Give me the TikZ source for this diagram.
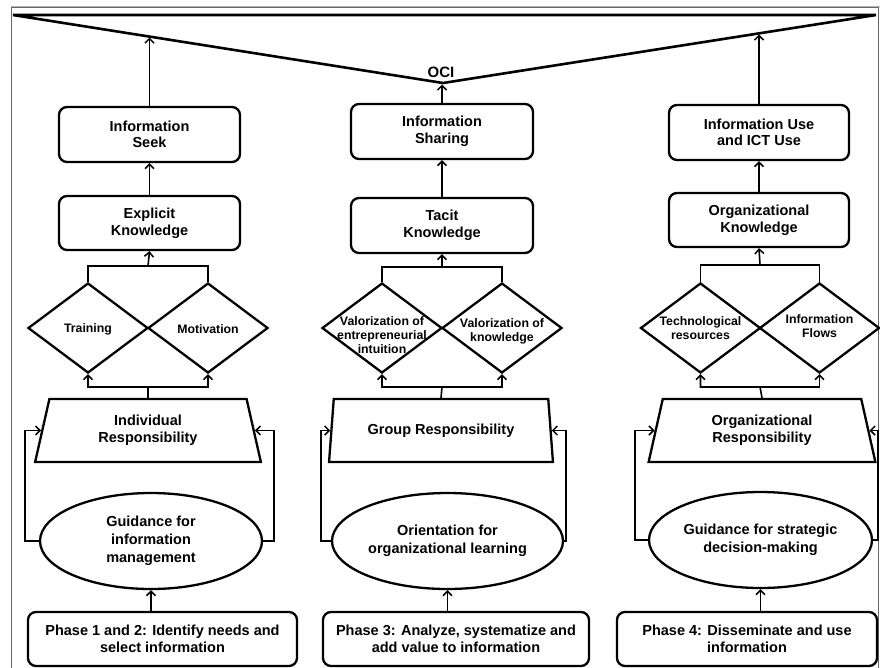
\documentclass[tikz,border=0pt]{standalone}
\usepackage{fontspec}
\setmainfont{Liberation Sans}
\usetikzlibrary{shapes.geometric,arrows.meta}

\begin{document}
\begin{tikzpicture}[x=1pt,y=-1pt,
  font=\bfseries\fontsize{14.5}{16.6}\selectfont,
  conn/.style={line width=1.6pt},
  arr/.style={conn,-{Straight Barb[length=4.5pt,width=9pt,line width=1.5pt]}},
  rbox/.style={draw,line width=2.3pt,rounded corners=8pt,minimum width=#1,
    minimum height=55pt,inner sep=0pt,align=center},
  dia/.style={draw,diamond,line width=2.3pt,minimum width=120pt,
    minimum height=90pt,inner sep=0pt},
  dtext/.style={font=\bfseries\fontsize{12.3}{14.3}\selectfont,align=center,inner sep=0pt},
  trap/.style={draw,trapezium,line width=2.3pt,trapezium stretches=true,
    trapezium angle=76.6,minimum width=#1,minimum height=63pt,
    inner sep=0pt,align=center},
  ell/.style={draw,ellipse,line width=2.3pt,minimum width=#1,
    minimum height=96pt,inner sep=0pt,align=center,
    font=\bfseries\fontsize{14.5}{18}\selectfont},
]
\useasboundingbox (0,0) rectangle (880,667);

% outer frame
\draw[gray!80!black,line width=0.8pt] (11,680) -- (11,7) -- (878,7) -- (878,680);
\draw[gray!60,line width=1.6pt] (11,6.5) -- (880,6.5);

% OCI triangle
\draw[line width=2.6pt] (13,15) -- (876,15) -- (443,83) -- cycle;
\node (oci) at (441,72) {\fontsize{15}{17}\selectfont OCI};
\coordinate (ociL) at (149.5,37.5);
\coordinate (ociM) at (442,84.5);
\coordinate (ociR) at (759,34.5);

% ---------- left column ----------
\node[rbox=181pt] (seek) at (149.5,134.5) {Information\\Seek};
\node[rbox=181pt,minimum height=54pt] (expl) at (149.5,223) {Explicit\\Knowledge};
\node[dia] (dTrain) at (88,328) {};
\node[dia] (dMot) at (208,328) {};
\node[dtext] (tTrain) at (88,329) {Training};
\node[dtext] (tMot) at (208,329) {Motivation};
\node[trap=226pt] (ind) at (148,430.5) {Individual\\Responsibility};
\node[ell=222pt] (guid) at (151,541) {Guidance for\\information\\management};
\node[rbox=269pt,minimum height=54pt] (ph1) at (162.5,639)
  {Phase 1 and 2: Identify needs and\\select information};
\coordinate (k1) at (148,266);
\coordinate (j1) at (148,387);

\draw[arr] (seek.north) -- (ociL);
\draw[arr] (expl.north) -- (seek.south);
\draw[conn] (dTrain.north) |- (k1) -| (dMot.north);
\draw[arr] (k1) -- (expl.south);
\draw[arr] (ind.north) -- (j1) -| (dTrain.south);
\draw[arr] (j1) -| (dMot.south);
\draw[arr] (guid.west) -- ++(-14,0) |- (ind.left side);
\draw[arr] (guid.east) -- ++(11,0) |- (ind.right side);
\draw[arr] (ph1.north -| guid.south) -- (guid.south);

% ---------- middle column ----------
\node[rbox=182pt] (share) at (442,131.5) {Information\\Sharing};
\node[rbox=182pt] (tacit) at (442,225.5) {Tacit\\Knowledge};
\node[dia] (dEnt) at (382,328) {};
\node[dia] (dKnow) at (502,328) {};
\node[dtext] (tEnt) at (382,335) {Valorization of\\entrepreneurial\\intuition};
\node[dtext] (tKnow) at (502,331) {Valorization of\\knowledge};
\node[trap=224pt] (grp) at (441,430.5) {Group Responsibility};
\node[ell=231pt] (orient) at (447.5,541) {Orientation for\\organizational learning};
\node[rbox=266pt,minimum height=54pt] (ph3) at (456,639)
  {Phase 3: Analyze, systematize and\\add value to information};
\coordinate (k2) at (442,267);
\coordinate (j2) at (442,387);

\draw[arr] (share.north) -- (ociM);
\draw[arr] (tacit.north) -- (share.south);
\draw[conn] (dEnt.north) |- (k2) -| (dKnow.north);
\draw[arr] (k2) -- (tacit.south);
\draw[arr] (grp.north) -- (j2) -| (dEnt.south);
\draw[arr] (j2) -| (dKnow.south);
\draw[arr] (orient.west) -- ++(-10,0) |- (grp.left side);
\draw[arr] (orient.east) -- ++(2,0) |- (grp.right side);
\draw[arr] (ph3.north -| orient.south) -- (orient.south);

% ---------- right column ----------
\node[rbox=180pt] (use) at (759,132.5) {Information Use\\and ICT Use};
\node[rbox=180pt,minimum height=54pt] (org) at (759,220) {Organizational\\Knowledge};
\node[dia] (dTech) at (700.5,328) {};
\node[dia] (dFlow) at (819.5,328) {};
\node[dtext] (tTech) at (700.5,328) {Technological\\resources};
\node[dtext] (tFlow) at (819.5,326) {Information\\Flows};
\node[trap=227pt] (orgr) at (762,430.5) {Organizational\\Responsibility};
\node[ell=223pt] (strat) at (760.5,540) {Guidance for strategic\\decision-making};
\node[rbox=260pt,minimum height=54pt] (ph4) at (747,639)
  {Phase 4: Disseminate and use\\information};
\coordinate (k3) at (760,265);
\coordinate (j3) at (760,387);

\draw[arr] (use.north) -- (ociR);
\draw[arr] (org.north) -- (use.south);
\draw[conn] (dTech.north) |- (k3) -| (dFlow.north);
\draw[arr] (k3) -- (org.south);
\draw[arr] (orgr.north) -- (j3) -| (dTech.south);
\draw[arr] (j3) -| (dFlow.south);
\draw[arr] (strat.west) -- ++(-13,0) |- (orgr.left side);
\draw[arr] (strat.east) -- (878,540) |- (orgr.right side);
\draw[arr] (ph4.north -| strat.south) -- (strat.south);
\end{tikzpicture}
\end{document}
